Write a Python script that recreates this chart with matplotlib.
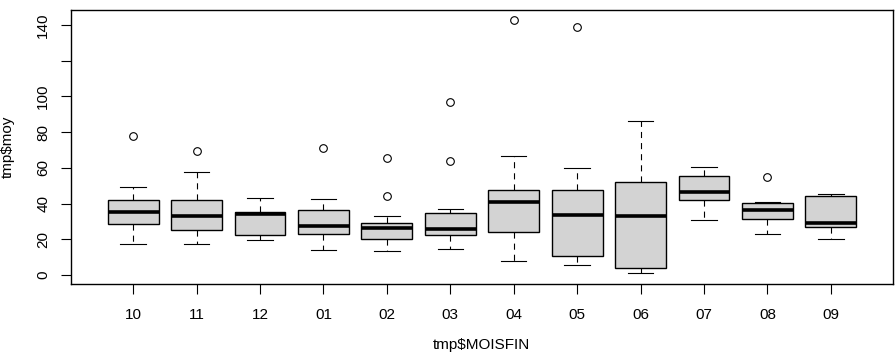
import matplotlib
matplotlib.use("Agg")
from matplotlib import pyplot as plt

months = ["10", "11", "12", "01", "02", "03", "04", "05", "06", "07", "08", "09"]
whislo = [17.2, 17.2, 19.4, 13.8, 13.3, 14.4, 7.7, 5.4, 0.9, 30.6, 22.8, 20.0]
q1 = [28.4, 25.0, 22.2, 22.8, 20.0, 22.2, 23.9, 10.5, 3.8, 41.8, 31.2, 26.7]
med = [35.1, 32.9, 34.4, 27.3, 26.1, 25.6, 40.7, 33.4, 32.9, 46.3, 36.2, 28.9]
q3 = [41.8, 41.8, 35.2, 36.2, 28.9, 34.5, 47.4, 47.4, 51.9, 55.3, 40.1, 44.1]
whishi = [49.1, 57.5, 42.9, 42.4, 32.9, 36.8, 66.4, 59.7, 86.1, 60.3, 40.7, 45.2]
fliers = [[77.6], [69.3], [], [70.9], [65.3, 44.1], [96.7, 63.7],
          [142.6], [138.7], [], [], [54.7], []]

plt.rcParams["font.family"] = ["Liberation Sans", "DejaVu Sans"]

stats = []
for i in range(len(months)):
    stats.append(dict(whislo=whislo[i], q1=q1[i], med=med[i], q3=q3[i],
                      whishi=whishi[i], fliers=fliers[i], label=months[i]))

fig = plt.figure(figsize=(8.96, 3.63), dpi=100)
ax = fig.add_axes([71 / 896, 79 / 363, 822 / 896, 274 / 363])

ax.bxp(stats, positions=range(1, 13), widths=0.8, capwidths=0.4,
       patch_artist=True,
       boxprops=dict(facecolor="#d3d3d3", edgecolor="black", linewidth=1),
       medianprops=dict(color="black", linewidth=2.6, solid_capstyle="butt"),
       whiskerprops=dict(color="black", linewidth=0.8, linestyle=(0, (5.5, 4.5))),
       capprops=dict(color="black", linewidth=0.8),
       flierprops=dict(marker="o", markerfacecolor="none", markeredgecolor="black",
                       markersize=5.5, markeredgewidth=0.8))

ax.set_xlim(0.02, 12.98)
ax.set_ylim(-5.0, 148.4)
ax.set_yticks([0, 20, 40, 60, 80, 100, 120, 140])
ax.set_yticklabels(["0", "20", "40", "60", "80", "100", "", "140"],
                   rotation=90, va="center")
for s in ax.spines.values():
    s.set_linewidth(1)
ax.tick_params(axis="both", length=7, width=0.8, labelsize=11)
ax.tick_params(axis="x", pad=10)
ax.tick_params(axis="y", pad=8)

fig.text(481 / 896, 1 - 345 / 363, "tmp$MOISFIN", ha="center", va="center", fontsize=11)
fig.text(8 / 896, 1 - 147 / 363, "tmp$moy", ha="center", va="center",
         rotation=90, fontsize=11)

fig.savefig("out.png", dpi=100)
